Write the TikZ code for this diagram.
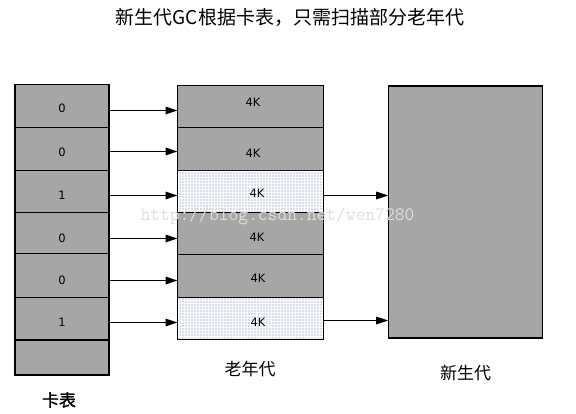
\documentclass[tikz,border=0pt]{standalone}
\usepackage{fontspec}
\setmainfont{DejaVu Sans}
\newfontfamily\cjk{Noto Sans CJK SC}
\newfontfamily\cjkb[FakeBold=1.2]{Noto Sans CJK SC}
\usetikzlibrary{arrows.meta,patterns}
\pgfdeclarepatternformonly{bigdots}{\pgfqpoint{-1pt}{-1pt}}{\pgfqpoint{1pt}{1pt}}{\pgfqpoint{3pt}{3pt}}{%
  \pgfpathcircle{\pgfqpoint{0pt}{0pt}}{0.65pt}\pgfusepath{fill}}
\definecolor{cellgray}{RGB}{166,166,166}
\definecolor{dotblue}{RGB}{85,120,170}
\definecolor{wmark}{RGB}{224,224,216}
\begin{document}
\begin{tikzpicture}[x=1pt,y=-1pt,
  box/.style={draw=black, line width=1.2pt, inner sep=0pt, outer sep=0pt},
  graycell/.style={box, fill=cellgray},
  dotcell/.style={box, fill=white, postaction={pattern=bigdots, pattern color=dotblue}},
  cardcell/.style={graycell, minimum width=94pt},
  oldgray/.style={graycell, minimum width=145.8pt},
  olddot/.style={dotcell, minimum width=145.8pt},
  num/.style={font=\fontsize{11.5}{11.5}\selectfont, inner sep=0pt},
  captext/.style={font=\cjk\fontsize{17}{17}\selectfont, inner sep=0pt},
  arr/.style={line width=1.4pt, -{Triangle[length=12pt,width=7.5pt]}}]
\useasboundingbox (0,0) rectangle (576,413);

% title
\node[font=\cjk\fontsize{19}{19}\selectfont, inner sep=0pt] (title) at (290,17) {新生代GC根据卡表，只需扫描部分老年代};

% card table
\node[cardcell, minimum height=42.8pt] (c1) at (62,105.9) {};
\node[cardcell, minimum height=43.2pt] (c2) at (62,148.9) {};
\node[cardcell, minimum height=41.8pt] (c3) at (62,191.4) {};
\node[cardcell, minimum height=41.2pt] (c4) at (62,232.9) {};
\node[cardcell, minimum height=43.8pt] (c5) at (62,275.4) {};
\node[cardcell, minimum height=42.7pt] (c6) at (62,318.65) {};
\node[cardcell, minimum height=35pt] (c7) at (62,357.5) {};
\node[num] (cl1) at (62,108) {0};
\node[num] (cl2) at (62,152) {0};
\node[num] (cl3) at (62,195) {1};
\node[num] (cl4) at (62,238) {0};
\node[num] (cl5) at (62,280) {0};
\node[num] (cl6) at (62,322) {1};

% old generation
\node[oldgray, minimum height=42pt] (o1) at (250.4,106.5) {};
\node[oldgray, minimum height=42.7pt] (o2) at (250.4,148.85) {};
\node[olddot, minimum height=42.1pt] (o3) at (250.4,191.25) {};
\node[oldgray, minimum height=42pt] (o4) at (250.4,233.3) {};
\node[oldgray, minimum height=43pt] (o5) at (250.4,275.8) {};
\node[olddot, minimum height=41.9pt] (o6) at (250.4,318.25) {};
\node[num] (ol1) at (253,102) {4K};
\node[num] (ol2) at (253,153) {4K};
\node[num] (ol3) at (257,193) {4K};
\node[num] (ol4) at (257,237.5) {4K};
\node[num] (ol5) at (258,278) {4K};
\node[num] (ol6) at (258,322.5) {4K};

% young generation
\node[graycell, minimum width=154.3pt, minimum height=252pt] (young) at (465.3,212) {};

% watermark
\node[font=\ttfamily\fontsize{19}{19}\selectfont, text=wmark, inner sep=0pt] (wm) at (277.5,216) {http://blog.csdn.net/wen7280};

% arrow levels
\coordinate (y1) at (0,110.5);
\coordinate (y2) at (0,151.5);
\coordinate (y3) at (0,195.5);
\coordinate (y4) at (0,238.5);
\coordinate (y5) at (0,280.5);
\coordinate (y6) at (0,322.5);
\coordinate (z3) at (0,195.5);
\coordinate (z6) at (0,320.5);

\draw[arr] (c1.east |- y1) -- (o1.west |- y1);
\draw[arr] (c2.east |- y2) -- (o2.west |- y2);
\draw[arr] (c3.east |- y3) -- (o3.west |- y3);
\draw[arr] (c4.east |- y4) -- (o4.west |- y4);
\draw[arr] (c5.east |- y5) -- (o5.west |- y5);
\draw[arr] (c6.east |- y6) -- (o6.west |- y6);
\draw[arr] (o3.east |- z3) -- (young.west |- z3);
\draw[arr] (o6.east |- z6) -- (young.west |- z6);

% captions
\node[captext, font=\cjkb\fontsize{17}{17}\selectfont] (capcard) at (59,400) {卡表};
\node[captext] (capold) at (250,369) {老年代};
\node[captext] (capyoung) at (465.5,372.7) {新生代};
\end{tikzpicture}
\end{document}
